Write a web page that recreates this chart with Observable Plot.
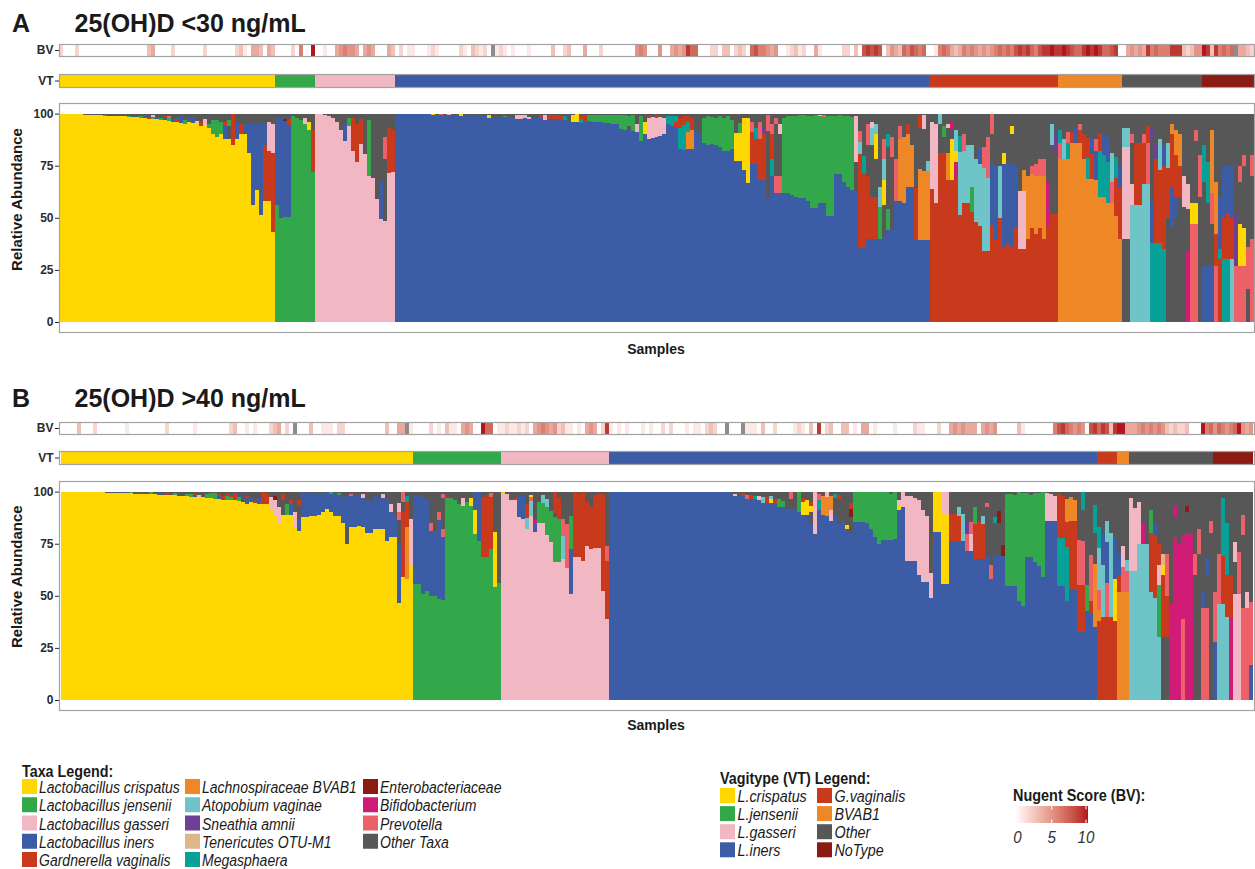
<!DOCTYPE html>
<html>
<head>
<meta charset="utf-8">
<script src="https://cdn.jsdelivr.net/npm/d3@7"></script>
<script src="https://cdn.jsdelivr.net/npm/@observablehq/plot@0.6"></script>
<style>
html,body{margin:0;padding:0;background:#fff;overflow:hidden;}
#root{position:relative;width:1255px;height:869px;overflow:hidden;background:#fff;}
</style>
</head>
<body>
<div id="root"></div>
<script>
// ---------------- DATA ----------------
const TAXA = ["Lactobacillus crispatus","Lactobacillus jensenii","Lactobacillus gasseri","Lactobacillus iners","Gardnerella vaginalis","Lachnospiraceae BVAB1","Atopobium vaginae","Sneathia amnii","Tenericutes OTU-M1","Megasphaera","Enterobacteriaceae","Bifidobacterium","Prevotella","Other Taxa"];
const TAXA_CODES = ["C","J","S","I","G","B","A","N","T","M","E","F","P","O"];
const TAXA_COLORS = ["#FED800","#32A84A","#F1B8C3","#3D5CA6","#C9391B","#EE8826","#6FC4C8","#6F3F95","#DDB787","#08A197","#8B1C13","#D01C77","#EC6068","#575757"];
const VT_NAMES = ["L.crispatus","L.jensenii","L.gasseri","L.iners","G.vaginalis","BVAB1","Other","NoType"];
const VT_COLORS = ["#FED800","#32A84A","#F1B8C3","#3D5CA6","#C9391B","#EE8826","#575757","#8B1C13"];
const Y_TICKS = [0, 25, 50, 75, 100];
const BV_TICKS = [0, 5, 10];

// Panel A: 25(OH)D <30 ng/mL — one entry per vagitype block, samples left to right,
// each sample = taxon code + relative abundance, listed bottom to top.
const A_VT = ["L.crispatus","L.jensenii","L.gasseri","L.iners","G.vaginalis","BVAB1","Other","NoType"];
const A_BARS = [
"C100 C100 C100 C99.8 C99.7 C99.6 C99.5 C99.5 C99.4 C99.3 C99.2 C99.1J0.3 C99 C99 C98.9I0.5 C98.8 C98.7 C98.5J0.6 C98.4 C98.2I0.8 C98J0.8I0.6 C97.8I1G0.5 C97.6G0.8 C97.4J1.2S0.6 C97.2I1 C97J1 C96.8I1.5G0.8 C96.5J1.5P0.8 C96I1.5 C96G1.5I1 C95.5I3.5 C95J2 C96I2 C95.5I3 C95S1.5 C94G2 C94S3.5 C93J2 C90J7 C89J8 C90J6 C88I6G2 C88O6J3 C85G15 C88I8 C90G5 C90I5 C81I14 C56I39 C63.5I32 C51.5I44 C58G27I10 C58G24S14 C43G38S14",
"J56I42 J50I48 J50.5I46E1 J50.5I44G3 J99 J98 J97 J95S3 J92C4 J72G20",
"S100 S100 S99.5 S99 S98 S96 S92 S87I8 S94J4 S82G16 S77G18 S85.5G12 S80.5 S70J27 S69 S59 S49.5I17.5 S48.5O29.5P11 S71.5G21.5 S72G20",
"I100 I100 I100 I100 I99.8C0.2 I99.8 I99.7 I99.7S0.3 I99.6 I99.5C0.5 I99.5 I99.4P0.3 I99.4 I99.3S0.7 I99.2 I99.2 I99.1C0.7 I99.1 I99G0.5 I99 I98.9G0.6 I98.9 I98.8 I98C1.5 I98.6 I98.5 I98.5 I98.3J0.7 I98.2 I98 I97.5S2 I97.5S2 I97.8S1.5 I97.5S1 I98 I98 I97.8G1.5 I96.8S2.5 I97.5G2 I97.5G2 I97.3G2.2 I97G2.5 I97M2 I96.5 I96C3.5 I95.8C4 I95.5M2G2 I96G3.5 I96.3J3 I96J3.5 I96J3.5 I95.8J3.7 I95.5J4 I95.5J4 I95J4.5 I95J4.5 I92.5J7 I92J7.5 I92O2J5 I91.5J8 I91S4 I87J12 I90C6 I88S10G1 I88.5S10 I89S9G2 I89.5S9 I90S8 I95M4 I94M5 I93G3M3 I83M10G5 I82.7M12G4 I83B8M5G3 I83B9G6 I92 I90 I86J12 I85J14 I85.5J13 I85J13 I84J15 I82J16 I82J17 I83J14 I77.5C13 I77.5C13J5 I73C25 I66.7C31 I76G15P5 I76G12M5 I68G20P8 I68G22N3 I59.5O32P8 I70M8G12P5 I62P8O25P3 I62P8O20S5 I62J36 I62J37 I61J38 I60J39 I59.5J40 I59.5J40 I58J41 I54.7J44 I54.7J44.5 I57J42S0.5 I57J41.5P1 I51J48 I51J48 I71J28 I71J28.5 I67J32 I65J34 I63.5J35 I63O14S22 I35.5G45A6P5 I35.5G36M8 I40G30O15P10 I40G20O25A8S3 I40G20O18C12A5 I40J15A10 I41O15C12A10P10 I44J10O30M6 I44O35P10 I58P20O12 I58B30P6 I57B32 I65B25G5 I65B20 I39.5G25 I39.5B34O20G6 I39.5B33O20S7 I39.5B33A5",
"G64S32 G57S38 G81O14A5 G81O8J5 G68B13O12S2 G68C20O4F4 G69F8C5A10 G51.5A30M8 G57A25P8 G57A28 G53J12A20 G48A30 G46A30I8 G34A40P10 G34A35P20 G46I30O14P10 G40I35 G50A25 G36I40C5 G38I38 G36I40O14C4 G45I30 G35S28 G35S28B10 G40B30 G45B26P4 G42B28P6 G45B25P8 G40B30P8 G46F21 G52O33A10 G52O30N8",
"B78P8M6 B78A10 B78M8P5 B86G5 B86I7 B86G6P3 B78G12 B68.5M10G10 B68.5G12I8 B68I14P6 B60M22G8 B60M20I10 B57M20I12 B57P10A14 B51G18M10 B40G25I10",
"O40S44A9 O40S44A9 A56S10O20P4 A56G30 A56G30 A66G20P4 A66P20G8 M38I20O30N5 M38G40N8 M38G35A15 M35G40I10 O50G24A12 O45I20G25B5 O50I10G20B12 O60G15B15 O55S15 F34O20S12 P47C10 P47C10O30P5 O60P20",
"I27O40M18 I27O30M20 I27O20P15B30 P27G15B25 G30M5I25 M30G20I25 M30G22I23 A30G20I25 P27N25 P27C20O20P8 P27C18O30P5 O16P20 P40O30P10"
];
// Nugent score per sample (0-9, a = 10, x = missing); spaces only for readability
const A_BV = [
"2000200000 0000000000 0034000020 0000002000 0000231044 3043",
"000020600a",
"0010045655 4045400043",
"0201100012 1000002103 2120x12101 0001000003 0023000400 0200000000 5650005004 5459770002 2033023207 8665450012 3120041000 0022030898 9803543768 7670",
"0167643465 6545456767 6898976899 a9",
"9a98779a9a 977890",
"0454549676 6699932355",
"a9396767x4 432"
];

// Panel B: 25(OH)D >40 ng/mL
const B_VT = ["L.crispatus","L.jensenii","L.gasseri","L.iners","G.vaginalis","BVAB1","Other","NoType"];
const B_BARS = [
"C100 C100 C100 C99.9 C99.9 C99.8 C99.8 C99.7 C99.7 C99.6 C99.6 C99.5 C99.5 C99.4 C99.4 C99.3I0.4 C99.3 C99.2J0.5 C99.1 C99G0.5 C99 C98.9 C98.8J0.8 C98.7 C98.6I0.8 C98.5 C98.4G0.8 C98.3 C98.2J1 C98.1 C98 C97.8J1.2 C97.6J1.5 C97.5I1G0.6 C97.4S1 C97.2 C97J2 C96.8J2.5 C96.5J3 C96.5I1.5G1 C96.2G1.5 C96J2G1 C95.8J1.5G1 C96G3.5 C95.5J2I1.5 C95 C94I3G1 C95I2 C94.5G1 C94I3 C94G6 C94G5.5 C91.5S6 C89S7E2 C84.5S8 C89O7G3 C89J5 C89I5G2 C83S7 C81I6O6G3 C88I12 C88I11.5 C88.3I11 C88.5I11 C89I10.5 C90I9.5 C91.7I8 C90I9J1 C88.5I11 C88.5I10J1 C85I12 C75O8I15 C83I15P1 C83I15 C83.3I15 C83I14S2 C80I16 C80I15 C82I16 C82I15 C82I15S2 C76.5I20 C78I12S4 C78I10 C46.4I28O12P4S4 C59G31O5P5 C58B25G12M3 C65S22",
"J55.6I43 J55.6I43 J51I46 J52.4I44 J50I31P4 J50I31 J48.4I38P4 J48I30P4O15P2 J97F1 J97 J96 J94 J93S4 J95 J93C4 J79.6C11.5I8.5 J76.4I23.5 J68.4G29 J68.4G30 J72.4G25P2 J54C26.5 J56",
"S99.5C0.5 S99 S96 S96G1 S87.7I10.5 S87I11 S82A5.5G6.4 S88.5A7P2C1 S80.4I4F2 S85J10 S85J9.6A4 S79J13.6A4 S75.6J15 S66J21.6O2G10.4 S66J21G10 S67.6A11.2P8 S63.3P21 S51I21.3J16 S68.8G31 S68.8G30 S66.8G33 S74G21 S72.4G20 S73G25.6 S73G26 S52.4G46.4 S38.8G28P7",
"I100 I100 I100 I100 I100 I100 I100 I100 I100 I100 I99.8C0.2 I100 I100 I100 I99.7S0.3 I100 I100 I100 I99.8 I100 I99.8C0.2 I100 I100 I99.6S0.4 I100 I100 I99.8 I99.9 I99.8 I99.7 I99.5 I98S1 I98 I98G1.5 I96.5P2 I96.5G2 I96.5M1.5 I96S2 I94.5A3 I94.5G3 I94.5C2A1.5 I94G2.5 I92.5J4 I92.5J3 I91.7 I91.7O5P3 I91.5 I90J10 I89C6G2 I89C7 I85O5C3G2 I79.6S20 I91M5P3 I89B9 I88.5B9S2.5 I86S5B7 I89O8M2 I84.5O12G2 I86 I82C2 I79.6O8E4G3 I85.3J14.7 I85.3J14.7 I85.3J14.5 I85J15 I82J18 I78J22 I75J25 I77J23 I77J23 I77J22 I77.5J22.5 I91C2.5S2.5 I92.5S7.5 I66.8S31 I66.8S31 I66.8S30 I60S36 I56.4S35 I56.4S32 I49S12 I80.5C19.5 I80.5C19.5 I55.6C34S10.4 I55.6C33S11.4 I76.4G13 I76.4G12.8 I76.4G12A4 I76.4A12.8 I71.6P8N6 I71.6S8P6 I67.6G16.8J8 I67.6G18 I67.6G16.8A4 I69O23.4P2 I58P7 I69O16M3 I69O16E5.6 I69E5.6 I54.8J44 I54.8J44 I54.8J43.5 I47.6J52 I45.2J54 I68.4J31 I68.4J30 I66J33.5 I64.4J35 I58.8J41 I86S13.5 I86S13 I86S12 I54.8M23G21 I54.8M23G20 I47.6M25.6G12B11.5 I53.2G32.8B11.5 I53.2G32.8B10 I32.4G23P21.6 I32.4G23P21O15M8.6 I42.6J12.8 I41.8G5.6P22.4 I34.8B30.4O15M13.6",
"G38B5P10A20M10 G40A25I15 G40P16I20A10 G40A40 G38C20I20",
"B52G8I10 B52P12S10 B52P10A5",
"A62S35 A62S30 A75S20 A75F10 A75 A52G28J11 A49G30I6 A30J25S10G10 O30G30C5T5 O30G20P20 F46 F78O10F5 F75 P39F40 F80O10E3 F80 O60P10 O70P12 P44I8 P44O16I8 O80P6",
"I28P24 A46P24 A46G23M28 A40G20M25 F40G20 S51O15S10 S51P20 P44O35P10 P44S8 I17P30"
];
const B_BV = [
"0000300020 0000001000 0000002000 0001000000 0023001010 00234020x0 0030011102 2000000000 030044x1",
"0000201031 1045400a77 01",
"1211212045 6545231101 0454029",
"1010100010 1002020001 011023200x 000x111030 0200001210 3090230033 0104401000 0100002110 0020045454 4404545000 0031000000 0689765650 89",
"79839",
"aa4",
"4456565653 23223000a6 7",
"576567a545"
];

// ---------------- BUILD ----------------
const FONT = '"Liberation Sans", Arial, Helvetica, sans-serif';
const FRAME = "#a3a3a3";
const BV_HIGH = "#B3141F";
const BV_NA = "#8c8c8c";
const W = 1255, ML = 59, MR = 1;
const root = document.getElementById("root");

function build(vts, bars, bvs) {
  const samples = [], segs = [];
  vts.forEach((vt, g) => {
    const toks = bars[g].trim().split(/\s+/);
    const bv = bvs[g].replace(/\s+/g, "");
    toks.forEach((tok, j) => {
      const id = samples.length;
      const ch = bv[j];
      const val = (ch === undefined) ? 0 : ch === "x" ? null : ch === "a" ? 10 : +ch;
      samples.push({id, vt, bv: val});
      const parts = [];
      for (const m of tok.matchAll(/([A-Z])(\d+(?:\.\d+)?)/g)) parts.push([m[1], +m[2]]);
      const tot = d3.sum(parts, d => d[1]);
      const k = tot > 100 ? 100 / tot : 1;
      parts.forEach(([c, v]) => segs.push({id, taxon: TAXA[TAXA_CODES.indexOf(c)], value: v * k}));
      if (tot < 100) segs.push({id, taxon: "Other Taxa", value: 100 - tot});
    });
  });
  return {samples, segs, ids: samples.map(d => d.id)};
}

function place(svg, top) {
  svg.style.position = "absolute";
  svg.style.top = top + "px";
  svg.style.left = "0px";
  svg.style.maxWidth = "none";
  svg.style.overflow = "visible";
  root.appendChild(svg);
}

const baseStyle = {background: "transparent", fontFamily: FONT, color: "#2b2b2b", overflow: "visible"};

function strip(P, kind, top, h) {
  const marks = [];
  let color;
  if (kind === "BV") {
    color = {type: "linear", domain: [0, 10], range: ["#ffffff", BV_HIGH], interpolate: "lab"};
    marks.push(Plot.cell(P.samples.filter(d => d.bv != null), {x: "id", y: () => "BV", fill: "bv", shapeRendering: "crispEdges"}));
    marks.push(Plot.cell(P.samples.filter(d => d.bv == null), {x: "id", y: () => "BV", fill: BV_NA, shapeRendering: "crispEdges"}));
  } else {
    color = {type: "ordinal", domain: VT_NAMES, range: VT_COLORS};
    marks.push(Plot.cell(P.samples, {x: "id", y: () => "VT", fill: "vt", shapeRendering: "crispEdges"}));
  }
  marks.push(Plot.frame({stroke: FRAME, strokeWidth: 1.2}));
  marks.push(Plot.axisY({tickSize: 4, tickPadding: 2, fontSize: 12, fontWeight: "bold", label: null}));
  const svg = Plot.plot({
    width: W, height: h + 6, marginTop: 3, marginBottom: 3, marginLeft: ML, marginRight: MR,
    x: {type: "band", domain: P.ids, padding: 0, axis: null},
    y: {type: "band", domain: [kind], padding: 0},
    color, style: baseStyle, marks
  });
  place(svg, top - 3);
}

function barsPlot(P, top, h) {
  const svg = Plot.plot({
    width: W, height: h + 4, marginTop: 2, marginBottom: 2, marginLeft: ML, marginRight: MR,
    x: {type: "band", domain: P.ids, padding: 0, axis: null},
    y: {domain: [-4.8, 105.1]},
    color: {domain: TAXA, range: TAXA_COLORS},
    style: baseStyle,
    marks: [
      Plot.barY(P.segs, {x: "id", y: "value", fill: "taxon", shapeRendering: "crispEdges"}),
      Plot.frame({stroke: FRAME, strokeWidth: 1.2}),
      Plot.axisY(Y_TICKS, {tickSize: 4, tickPadding: 2, fontSize: 12, fontWeight: "bold", label: null})
    ]
  });
  place(svg, top - 2);
}

const PA = build(A_VT, A_BARS, A_BV);
const PB = build(B_VT, B_BARS, B_BV);

strip(PA, "BV", 44, 12);
strip(PA, "VT", 74, 13);
barsPlot(PA, 103, 229);
strip(PB, "BV", 422, 12);
strip(PB, "VT", 451, 13);
barsPlot(PB, 481, 229);

// ---------------- TEXT & LEGENDS ----------------
const ov = d3.create("svg").attr("width", W).attr("height", 869)
  .style("position", "absolute").style("top", "0px").style("left", "0px")
  .attr("font-family", FONT);
root.appendChild(ov.node());

function txt(x, y, s, size, opts = {}) {
  const t = ov.append("text").attr("x", x).attr("y", y).text(s)
    .attr("font-size", size).attr("font-weight", opts.bold ? "bold" : "normal")
    .attr("font-style", opts.italic ? "italic" : "normal")
    .attr("fill", opts.fill || "#1a1a1a").attr("text-anchor", opts.anchor || "start");
  if (opts.squeeze) {
    const L = t.node().getComputedTextLength();
    t.attr("textLength", L * opts.squeeze).attr("lengthAdjust", "spacingAndGlyphs");
  }
  return t;
}

txt(12, 31.7, "A", 25, {bold: true});
txt(74.5, 31.7, "25(OH)D <30 ng/mL", 25, {bold: true});
txt(12, 406.7, "B", 25, {bold: true});
txt(74.5, 406.7, "25(OH)D >40 ng/mL", 25, {bold: true});

[199.5, 576.7].forEach(cy => {
  ov.append("text").attr("transform", `translate(21.5,${cy}) rotate(-90)`)
    .attr("text-anchor", "middle").attr("font-size", 15).attr("font-weight", "bold")
    .attr("fill", "#1a1a1a").text("Relative Abundance");
});
txt(656, 354, "Samples", 14, {bold: true, anchor: "middle"});
txt(656, 730, "Samples", 14, {bold: true, anchor: "middle"});

const LEG = 16.3, SQ = 0.86, TSQ = 0.88;

// Taxa legend
txt(22, 777, "Taxa Legend:", 16.3, {bold: true, squeeze: TSQ});
const taxaCols = [[0, 5, 22], [5, 10, 185], [10, 14, 363]];
taxaCols.forEach(([a, b, x]) => {
  for (let i = a; i < b; i++) {
    const y = 779 + 18.25 * (i - a);
    ov.append("rect").attr("x", x).attr("y", y).attr("width", 15).attr("height", 15).attr("fill", TAXA_COLORS[i]);
    txt(x + 17, y + 14, TAXA[i], LEG, {italic: true, squeeze: SQ});
  }
});

// VT legend
txt(720, 784, "Vagitype (VT) Legend:", 16.3, {bold: true, squeeze: TSQ});
const vtCols = [[0, 4, 720], [4, 8, 817]];
vtCols.forEach(([a, b, x]) => {
  for (let i = a; i < b; i++) {
    const y = 788 + 18.1 * (i - a);
    ov.append("rect").attr("x", x).attr("y", y).attr("width", 15).attr("height", 15).attr("fill", VT_COLORS[i]);
    txt(x + 17.5, y + 14, VT_NAMES[i], LEG, {italic: true, squeeze: 0.88});
  }
});

// Nugent colour bar
txt(1013, 801, "Nugent Score (BV):", 16.8, {bold: true, squeeze: 0.86});
const grad = ov.append("defs").append("linearGradient").attr("id", "bvgrad");
const interp = d3.interpolateLab("#ffffff", BV_HIGH);
d3.range(0, 11).forEach(i => grad.append("stop").attr("offset", i / 10).attr("stop-color", interp(i / 10)));
const rx0 = 1015, rx1 = 1088, ry = 806, rh = 17;
ov.append("rect").attr("x", rx0).attr("y", ry).attr("width", rx1 - rx0).attr("height", rh).attr("fill", "url(#bvgrad)");
const bx = d3.scaleLinear().domain([0, 10]).range([1017.5, 1086]);
BV_TICKS.forEach(v => {
  if (v > 0) {
    ov.append("line").attr("x1", bx(v)).attr("x2", bx(v)).attr("y1", ry).attr("y2", ry + 3.5).attr("stroke", "#fff");
    ov.append("line").attr("x1", bx(v)).attr("x2", bx(v)).attr("y1", ry + rh - 3.5).attr("y2", ry + rh).attr("stroke", "#fff");
  }
  txt(bx(v), 843, String(v), 16.8, {italic: true, anchor: "middle", fill: "#333", squeeze: 0.9});
});
</script>
</body>
</html>
